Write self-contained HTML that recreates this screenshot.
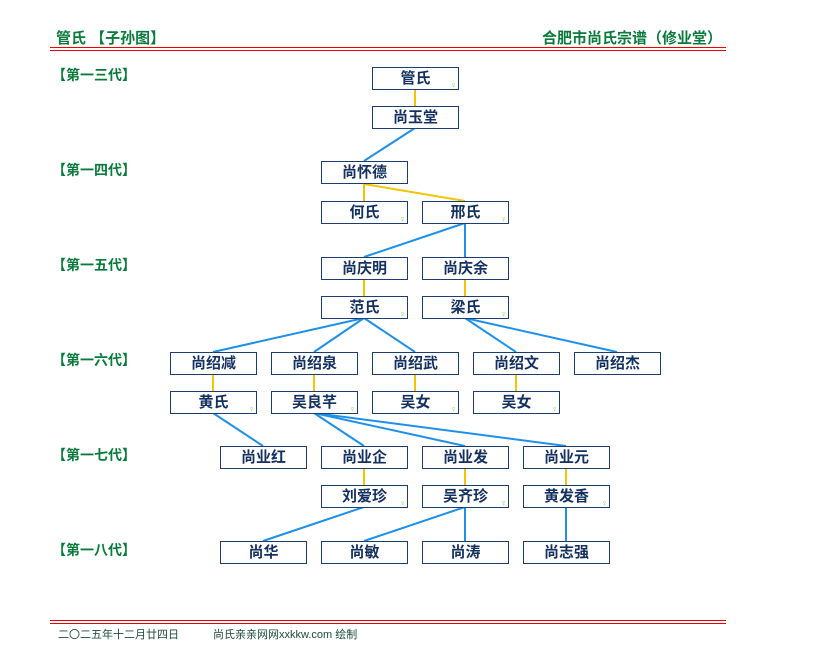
<!DOCTYPE html>
<html><head><meta charset="utf-8"><style>
body{margin:0;width:825px;height:670px;background:#fff;position:relative;font-family:"Liberation Sans","Noto Sans CJK SC",sans-serif;overflow:hidden}
.t{position:absolute;color:#0a7a3c;font-weight:bold;font-size:15px;line-height:16px;white-space:nowrap}
.g{position:absolute;color:#0a7a3c;font-weight:bold;font-size:14px;left:52px;line-height:16px}
.b{position:absolute;width:85px;height:21px;border:1px solid #1c3d6e;background:#fff;color:#14305e;font-weight:bold;font-size:15px;line-height:21px;text-align:center;box-sizing:content-box}
.f::after{content:"♀";position:absolute;right:1px;bottom:-1px;font-size:9px;line-height:9px;color:#9bc45a;font-weight:normal}
.ln{position:absolute;left:50px;width:676px;height:1px;background:#e00}
.ft{position:absolute;top:626px;font-size:11px;color:#1a4a3a;white-space:nowrap}
</style></head><body>
<div class="t" style="left:56px;top:31px">管氏 【子孙图】</div>
<div class="t" style="right:103px;top:31px">合肥市尚氏宗谱（修业堂）</div>
<div class="ln" style="top:47px"></div><div class="ln" style="top:50px"></div>
<div class="ln" style="top:620px"></div><div class="ln" style="top:623px"></div>
<div class="ft" style="left:58px">二〇二五年十二月廿四日</div>
<div class="ft" style="left:213px">尚氏亲亲网网xxkkw.com 绘制</div>
<div class="g" style="top:67px">【第一三代】</div>
<div class="g" style="top:162px">【第一四代】</div>
<div class="g" style="top:257px">【第一五代】</div>
<div class="g" style="top:352px">【第一六代】</div>
<div class="g" style="top:447px">【第一七代】</div>
<div class="g" style="top:542px">【第一八代】</div>
<svg width="825" height="670" style="position:absolute;left:0;top:0">
<g stroke="#f5c400" stroke-width="2">
<line x1="415" y1="89" x2="415" y2="106"/>
<line x1="364" y1="184" x2="465" y2="201"/>
<line x1="364" y1="184" x2="364" y2="201"/>
<line x1="364" y1="279" x2="364" y2="296"/>
<line x1="465" y1="279" x2="465" y2="296"/>
<line x1="213" y1="374" x2="213" y2="391"/>
<line x1="314" y1="374" x2="314" y2="391"/>
<line x1="415" y1="374" x2="415" y2="391"/>
<line x1="516" y1="374" x2="516" y2="391"/>
<line x1="364" y1="468" x2="364" y2="485"/>
<line x1="465" y1="468" x2="465" y2="485"/>
<line x1="566" y1="468" x2="566" y2="485"/>
</g>
<g stroke="#1e90e8" stroke-width="2">
<line x1="415" y1="128" x2="364" y2="161"/>
<line x1="465" y1="223" x2="364" y2="257"/>
<line x1="465" y1="223" x2="465" y2="257"/>
<line x1="364" y1="318" x2="213" y2="352"/>
<line x1="364" y1="318" x2="314" y2="352"/>
<line x1="364" y1="318" x2="415" y2="352"/>
<line x1="465" y1="318" x2="516" y2="352"/>
<line x1="465" y1="318" x2="617" y2="352"/>
<line x1="213" y1="413" x2="263" y2="446"/>
<line x1="314" y1="413" x2="364" y2="446"/>
<line x1="314" y1="413" x2="465" y2="446"/>
<line x1="314" y1="413" x2="566" y2="446"/>
<line x1="364" y1="507" x2="263" y2="541"/>
<line x1="465" y1="507" x2="364" y2="541"/>
<line x1="465" y1="507" x2="465" y2="541"/>
<line x1="566" y1="507" x2="566" y2="541"/>
</g>
</svg>
<div class="b f" style="left:372px;top:67px">管氏</div>
<div class="b" style="left:372px;top:106px">尚玉堂</div>
<div class="b" style="left:321px;top:161px">尚怀德</div>
<div class="b f" style="left:321px;top:201px">何氏</div>
<div class="b f" style="left:422px;top:201px">邢氏</div>
<div class="b" style="left:321px;top:257px">尚庆明</div>
<div class="b" style="left:422px;top:257px">尚庆余</div>
<div class="b f" style="left:321px;top:296px">范氏</div>
<div class="b f" style="left:422px;top:296px">梁氏</div>
<div class="b" style="left:170px;top:352px">尚绍减</div>
<div class="b" style="left:271px;top:352px">尚绍泉</div>
<div class="b" style="left:372px;top:352px">尚绍武</div>
<div class="b" style="left:473px;top:352px">尚绍文</div>
<div class="b" style="left:574px;top:352px">尚绍杰</div>
<div class="b f" style="left:170px;top:391px">黄氏</div>
<div class="b f" style="left:271px;top:391px">吴良芊</div>
<div class="b f" style="left:372px;top:391px">吴女</div>
<div class="b f" style="left:473px;top:391px">吴女</div>
<div class="b" style="left:220px;top:446px">尚业红</div>
<div class="b" style="left:321px;top:446px">尚业企</div>
<div class="b" style="left:422px;top:446px">尚业发</div>
<div class="b" style="left:523px;top:446px">尚业元</div>
<div class="b f" style="left:321px;top:485px">刘爱珍</div>
<div class="b f" style="left:422px;top:485px">吴齐珍</div>
<div class="b f" style="left:523px;top:485px">黄发香</div>
<div class="b" style="left:220px;top:541px">尚华</div>
<div class="b" style="left:321px;top:541px">尚敏</div>
<div class="b" style="left:422px;top:541px">尚涛</div>
<div class="b" style="left:523px;top:541px">尚志强</div>
</body></html>
